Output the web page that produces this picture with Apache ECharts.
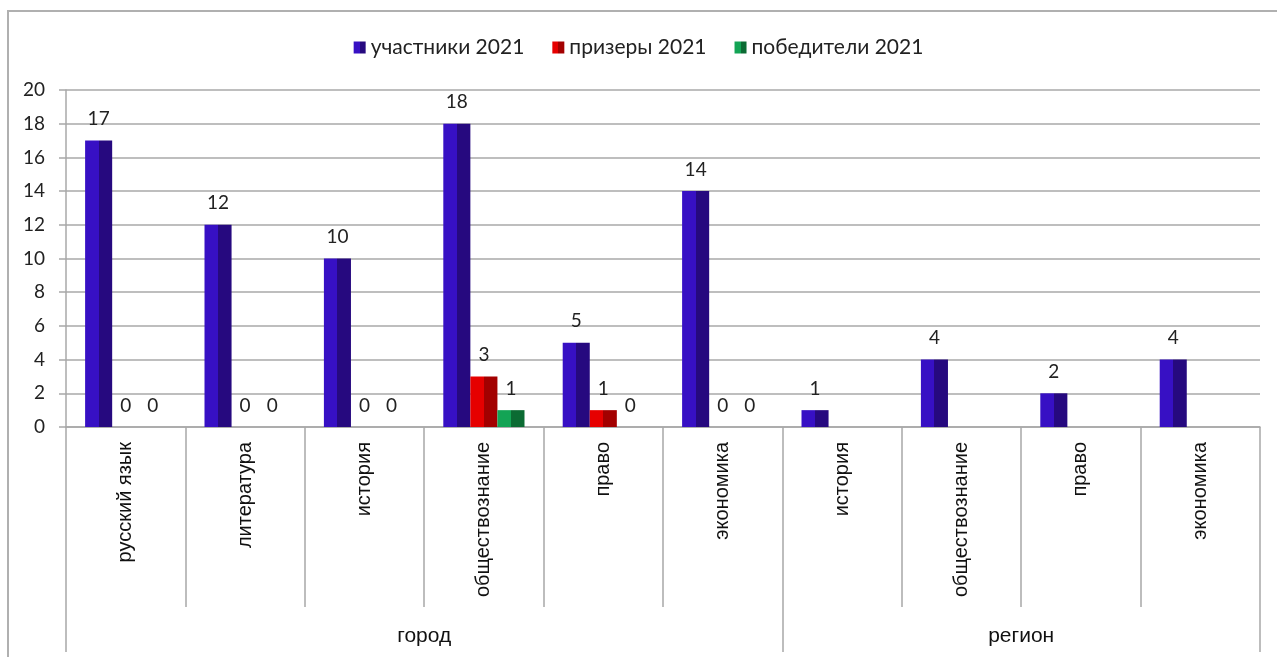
<!DOCTYPE html>
<html>
<head>
<meta charset="utf-8">
<script src="https://cdn.jsdelivr.net/npm/echarts@6/dist/echarts.min.js"></script>
<style>
html,body{margin:0;padding:0;background:#fff;overflow:hidden;}
#frame{position:absolute;left:7px;top:10px;width:1300px;height:700px;border-left:2px solid #b0b0b0;border-top:2px solid #b0b0b0;}
#chart{position:absolute;left:0;top:0;width:1277px;height:657px;}
</style>
</head>
<body>
<div id="frame"></div>
<div id="chart"></div>
<script>
const categories = ['русский язык','литература','история','обществознание','право','экономика','история','обществознание','право','экономика'];
const groups = ['город','регион'];
const groupSizes = [6,4];
const seriesNames = ['участники 2021','призеры 2021','победители 2021'];
const participants = [17,12,10,18,5,14,1,4,2,4];
const prizewinners = [0,0,0,3,1,0,null,null,null,null];
const winners = [0,0,0,1,0,0,null,null,null,null];
const yMin = 0, yMax = 20, yStep = 2;

const boundaries = [0];
const centers = [];
groupSizes.forEach(s => { const b = boundaries[boundaries.length-1]; centers.push(b + s/2); boundaries.push(b + s); });

function bevel(light, dark){
  return {type:'linear',x:0,y:0,x2:1,y2:0,colorStops:[
    {offset:0,color:light},{offset:0.5,color:light},{offset:0.5,color:dark},{offset:1,color:dark}]};
}
const colors = [bevel('#3710c4','#26097f'), bevel('#e60000','#a30000'), bevel('#13a455','#0b6b33')];
const numFont = 'Lato, "Open Sans", sans-serif';
const catFont = '"Liberation Sans", Arial, sans-serif';

const chart = echarts.init(document.getElementById('chart'));
const data = [participants, prizewinners, winners];
chart.setOption({
  backgroundColor:'transparent',
  animation:false,
  legend:{
    top:32, left:'center', itemWidth:12, itemHeight:12, itemGap:28, icon:'rect',
    textStyle:{fontFamily:numFont, fontSize:21, color:'#222'},
    data:seriesNames
  },
  grid:{left:66, right:17, top:90, bottom:230, containLabel:false},
  xAxis:[{
    type:'category', data:categories, position:'bottom',
    axisLine:{show:true, lineStyle:{color:'#a8a8a8', width:1.5}},
    axisTick:{show:true, length:180, lineStyle:{color:'#a8a8a8', width:1.5}},
    axisLabel:{rotate:90, margin:15, fontFamily:catFont, fontSize:20, color:'#111', interval:0}
  },{
    type:'value', min:boundaries[0], max:boundaries[boundaries.length-1], position:'bottom',
    axisLine:{show:false},
    splitLine:{show:false},
    axisTick:{show:true, length:225, customValues:boundaries, lineStyle:{color:'#a8a8a8', width:1.5}},
    axisLabel:{show:true, customValues:centers, margin:199, fontFamily:catFont, fontSize:21, color:'#111',
      formatter:v => groups[centers.indexOf(v)] || ''}
  }],
  yAxis:{
    type:'value', min:yMin, max:yMax, interval:yStep,
    axisLine:{show:true, lineStyle:{color:'#a8a8a8', width:1.5}},
    axisTick:{show:true, length:7, lineStyle:{color:'#a8a8a8', width:1.5}},
    splitLine:{show:true, lineStyle:{color:'#a8a8a8', width:1.5}},
    axisLabel:{fontFamily:numFont, fontSize:19, color:'#222', margin:21}
  },
  series:seriesNames.map((n,i)=>({
    name:n, type:'bar', xAxisIndex:0, data:data[i],
    barGap:'0%', barCategoryGap:'32%',
    itemStyle:{color:colors[i]},
    label:{show:true, position:'top', distance:12, fontFamily:numFont, fontSize:19, color:'#222',
      formatter:p => (p.value === null || p.value === undefined) ? '' : String(p.value)}
  }))
});
</script>
</body>
</html>
